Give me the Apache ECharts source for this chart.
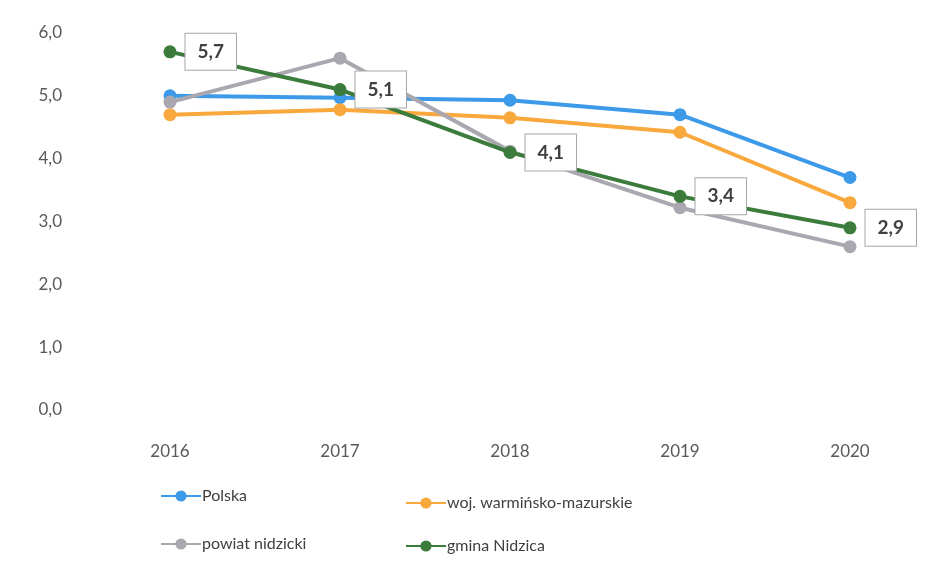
<!DOCTYPE html>
<html>
<head>
<meta charset="utf-8">
<script src="https://cdn.jsdelivr.net/npm/echarts@6/dist/echarts.min.js"></script>
<style>
  html, body { margin: 0; padding: 0; background: #fff; }
  #chart { width: 952px; height: 578px; }
</style>
</head>
<body>
<div id="chart"></div>
<script>
// lata
const years = ["2016", "2017", "2018", "2019", "2020"];

// wartości
const polska = [5.0, 4.97, 4.93, 4.7, 3.7];
const wojewodztwo = [4.7, 4.78, 4.65, 4.42, 3.3];
const powiat = [4.9, 5.6, 4.12, 3.22, 2.6];
const gmina = [5.7, 5.1, 4.1, 3.4, 2.9];

const font = "Lato, 'Open Sans', sans-serif";
const comma = v => v.toFixed(1).replace(".", ",");

const chart = echarts.init(document.getElementById("chart"));

function line(name, data, color, withLabel) {
  return {
    name: name,
    type: "line",
    data: data,
    symbol: "circle",
    symbolSize: 13,
    lineStyle: { width: 4, color: color },
    itemStyle: { color: color },
    z: withLabel ? 5 : 2,
    label: withLabel ? {
      show: true,
      position: "right",
      distance: 9,
      offset: [0, 0],
      formatter: p => comma(p.value),
      fontFamily: font,
      fontSize: 19,
      fontWeight: "bold",
      color: "#404040",
      backgroundColor: "#fff",
      borderColor: "#a6a6a6",
      borderWidth: 1,
      padding: [9, 12, 8, 12]
    } : { show: false }
  };
}

function legendAt(name, left, top) {
  return {
    data: [name],
    left: left,
    top: top,
    itemWidth: 40,
    itemHeight: 14,
    textStyle: { fontFamily: font, fontSize: 16, color: "#404040", padding: [0, 0, 0, -4] }
  };
}

chart.setOption({
  animation: false,
  grid: { left: 85, right: 17, top: 33, bottom: 168 },
  legend: [
    legendAt("Polska", 155, 483),
    legendAt("woj. warmińsko-mazurskie", 400, 490),
    legendAt("powiat nidzicki", 155, 531),
    legendAt("gmina Nidzica", 400, 533)
  ],
  xAxis: {
    type: "category",
    data: years,
    boundaryGap: true,
    axisLine: { show: false },
    axisTick: { show: false },
    axisLabel: { margin: 33, fontFamily: font, fontSize: 17, color: "#595959" }
  },
  yAxis: {
    type: "value",
    min: 0,
    max: 6,
    interval: 1,
    splitLine: { show: false },
    axisLabel: {
      margin: 23,
      fontFamily: font,
      fontSize: 17,
      color: "#595959",
      formatter: v => comma(v)
    }
  },
  series: [
    line("Polska", polska, "#3d9ae8", false),
    line("woj. warmińsko-mazurskie", wojewodztwo, "#f8a83c", false),
    line("powiat nidzicki", powiat, "#a9a8b0", false),
    line("gmina Nidzica", gmina, "#3b7b3b", true)
  ]
});
</script>
</body>
</html>
